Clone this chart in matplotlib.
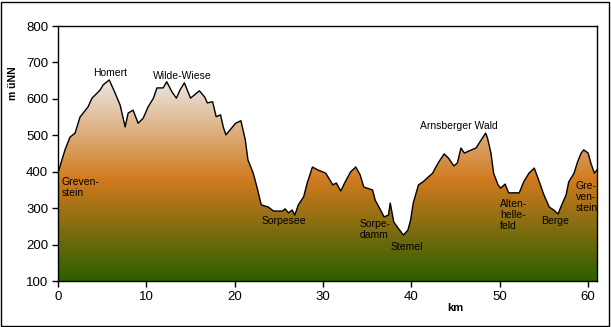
import numpy as np
import matplotlib
matplotlib.use("Agg")
import matplotlib.pyplot as plt
from matplotlib.colors import LinearSegmentedColormap
from matplotlib.patches import Rectangle

plt.rcParams['font.family'] = ['Liberation Sans', 'DejaVu Sans']

# elevation profile (km, m above sea level)
km = [0.0, 0.34, 0.79, 1.36, 1.93, 2.49, 3.4, 3.85, 4.76, 5.1, 5.8, 6.46, 7.03,
      7.6, 7.94, 8.5, 9.07, 9.64, 10.2, 10.8, 11.2, 11.9, 12.3, 12.9, 13.4, 13.8,
      14.3, 15.0, 16.0, 16.6, 16.9, 17.5, 17.9, 18.4, 18.7, 19.0, 20.1, 20.7,
      21.2, 21.5, 22.1, 22.6, 23.0, 23.8, 24.4, 25.4, 25.7, 26.1, 26.5, 26.8,
      27.2, 27.8, 28.2, 28.8, 29.4, 30.3, 31.1, 31.5, 32.0, 32.5, 33.1, 33.7,
      34.2, 34.6, 35.6, 35.9, 36.5, 36.9, 37.4, 37.6, 38.0, 38.5, 39.1, 39.6,
      39.9, 40.2, 40.8, 41.3, 41.8, 42.4, 42.7, 43.1, 43.7, 44.2, 44.8, 45.2,
      45.6, 46.0, 46.5, 47.3, 48.1, 48.4, 48.6, 49.0, 49.3, 49.8, 50.1, 50.6,
      51.0, 51.6, 52.2, 52.7, 53.3, 53.9, 54.4, 55.0, 55.6, 56.1, 56.6, 56.9,
      57.5, 57.8, 58.4, 58.8, 59.2, 59.5, 60.0, 60.3, 60.7, 61.0]
elev = [397, 424, 460, 495, 506, 550, 578, 602, 624, 638, 652, 616, 583,
        523, 561, 569, 533, 547, 578, 602, 630, 630, 647, 619, 602, 624,
        644, 602, 622, 605, 589, 592, 551, 556, 523, 501, 533, 540,
        487, 432, 396, 350, 309, 303, 292, 292, 298, 287, 295, 281,
        309, 331, 369, 413, 405, 396, 364, 369, 347, 372, 399, 413,
        391, 358, 350, 322, 295, 276, 281, 314, 262, 245, 226, 240,
        267, 314, 364, 372, 383, 396, 410, 427, 449, 437, 416, 424,
        465, 451, 457, 465, 495, 506, 493, 451, 396, 364, 355, 366,
        342, 342, 342, 372, 396, 410, 377, 336, 303, 295, 284, 303,
        336, 372, 396, 427, 451, 460, 451, 424, 396, 405]

# place names on the route
names = ['Homert', 'Wilde-Wiese', 'Arnsberger Wald', 'Greven-\nstein', 'Sorpesee',
         'Sorpe-\ndamm', 'Stemel', 'Alten-\nhelle-\nfeld', 'Berge', 'Gre-\nven-\nstein']
name_km = [5.9, 14.1, 45.4, 0.45, 25.6, 34.1, 39.5, 50.0, 56.3, 58.6]
name_elev = [671, 663, 525, 357, 266, 241, 193, 281, 265, 331]
name_ha = ['center', 'center', 'center', 'left', 'center', 'left', 'center', 'left', 'center', 'left']

W, H = 611, 327
fig = plt.figure(figsize=(W / 100, H / 100), dpi=100)
ax = fig.add_axes([58 / W, (H - 281) / H, (597 - 58) / W, (281 - 26) / H])

# gradient fill: green at bottom, orange in the middle, pale at top
cmap = LinearSegmentedColormap.from_list(
    'relief', [(0.0, '#2c5f00'), (0.5, '#d07a1e'), (1.0, '#ebe8e6')])
grad = np.linspace(0, 1, 256).reshape(-1, 1)
img = ax.imshow(grad, cmap=cmap, origin='lower', aspect='auto',
                extent=[0, 61, 100, max(elev)], zorder=1)
poly = ax.fill_between(km, elev, 100, color='none', zorder=1)
img.set_clip_path(poly.get_paths()[0], transform=ax.transData)
ax.plot(km, elev, color='black', lw=1.0, zorder=2)

for n, x, y, ha in zip(names, name_km, name_elev, name_ha):
    ax.text(x, y, n, ha=ha, va='center', fontsize=7.5, linespacing=1.15, zorder=3)

ax.set_xlim(0, 61)
ax.set_ylim(100, 800)
ax.set_xticks(range(0, 61, 10))
ax.set_yticks(range(100, 801, 100))
ax.tick_params(direction='out', length=4, width=1, labelsize=9.5, pad=3)
for s in ax.spines.values():
    s.set_linewidth(1)

fig.text(13 / W, 1 - 83 / H, 'm üNN', rotation=90, ha='center', va='center',
         fontsize=7.5, fontweight='bold')
fig.text(455 / W, 1 - 308 / H, 'km', ha='center', va='center',
         fontsize=8, fontweight='bold')

fig.patches.append(Rectangle((1 / W, 1 / H), (W - 3) / W, (H - 3) / H,
                             transform=fig.transFigure, fill=False,
                             edgecolor='black', lw=1))

fig.savefig('out.png', dpi=100)
